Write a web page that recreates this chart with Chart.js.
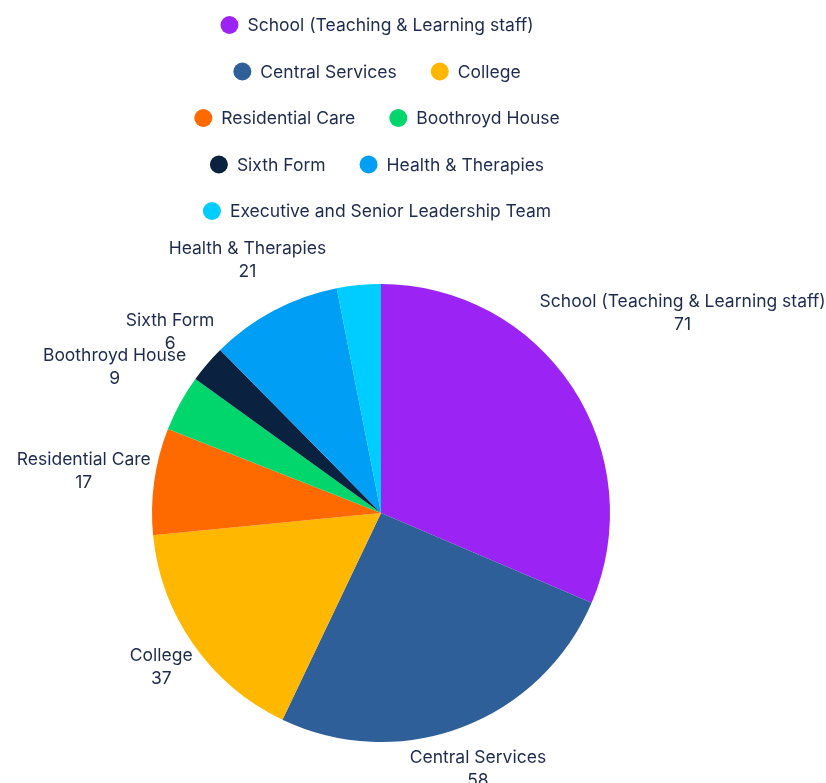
<!DOCTYPE html>
<html>
<head>
<meta charset="utf-8">
<script src="https://cdn.jsdelivr.net/npm/chart.js@4/dist/chart.umd.min.js"></script>
<style>
  html, body { margin: 0; padding: 0; background: #ffffff; }
  #wrap { width: 826px; height: 783px; position: relative; }
</style>
</head>
<body>
<div id="wrap"><canvas id="c"></canvas></div>
<script>
const categories = [
  "School (Teaching & Learning staff)",
  "Central Services",
  "College",
  "Residential Care",
  "Boothroyd House",
  "Sixth Form",
  "Health & Therapies",
  "Executive and Senior Leadership Team"
];
const staffCounts = [71, 58, 37, 17, 9, 6, 21, 7];
const sliceColors = ["#9b24f5", "#2e5f99", "#ffb700", "#ff6a00", "#00d66b", "#0a2140", "#009ef5", "#00cdff"];

const TEXT_COLOR = "#1d2b4e";
const FONT_FAMILY = "Inter, 'Noto Sans', sans-serif";
const FONT_SIZE = 17.5;

const legendPlugin = {
  id: "customLegend",
  afterDraw(chart) {
    const ctx = chart.ctx;
    const area = chart.chartArea;
    const cx = (area.left + area.right) / 2 - 4;
    const maxW = 420, dot = 18, dotGap = 9, itemGap = 34, rowH = 46.5, firstY = 25;
    ctx.save();
    ctx.font = FONT_SIZE + "px " + FONT_FAMILY;
    const items = categories.map((t, i) => ({ t, i, w: dot + dotGap + ctx.measureText(t).width }));
    const rows = [];
    let cur = [], curW = 0;
    items.forEach(it => {
      const add = cur.length ? itemGap + it.w : it.w;
      if (cur.length && curW + add > maxW) { rows.push({ items: cur, w: curW }); cur = [it]; curW = it.w; }
      else { cur.push(it); curW += add; }
    });
    if (cur.length) rows.push({ items: cur, w: curW });
    ctx.textBaseline = "middle";
    ctx.textAlign = "left";
    rows.forEach((row, r) => {
      const y = firstY + r * rowH;
      let x = cx - row.w / 2;
      row.items.forEach(it => {
        ctx.beginPath();
        ctx.fillStyle = sliceColors[it.i];
        ctx.arc(x + dot / 2, y, dot / 2, 0, Math.PI * 2);
        ctx.fill();
        ctx.fillStyle = TEXT_COLOR;
        ctx.fillText(it.t, x + dot + dotGap, y + 1);
        x += it.w + itemGap;
      });
    });
    ctx.restore();
  }
};

const outsideLabels = {
  id: "outsideLabels",
  afterDatasetsDraw(chart) {
    const ctx = chart.ctx;
    const meta = chart.getDatasetMeta(0);
    const lineH = 23, pad = 2;
    const placed = [];
    ctx.save();
    ctx.font = FONT_SIZE + "px " + FONT_FAMILY;
    ctx.fillStyle = TEXT_COLOR;
    ctx.textAlign = "center";
    ctx.textBaseline = "middle";
    meta.data.forEach((arc, i) => {
      const p = arc.getProps(["x", "y", "startAngle", "endAngle", "outerRadius"], true);
      const mid = (p.startAngle + p.endAngle) / 2;
      const c = Math.cos(mid), s = Math.sin(mid);
      const l1 = categories[i], l2 = String(staffCounts[i]);
      const w = Math.max(ctx.measureText(l1).width, ctx.measureText(l2).width);
      const h = lineH + FONT_SIZE;
      const support = (w / 2) * Math.abs(c) + (h / 2) * Math.abs(s);
      const d = p.outerRadius + pad + support;
      const lx = p.x + c * d, ly = p.y + s * d;
      const box = { x1: lx - w / 2, x2: lx + w / 2, y1: ly - h / 2, y2: ly + h / 2 };
      const clash = placed.some(b => {
        const ox = Math.max(0, Math.min(b.x2, box.x2) - Math.max(b.x1, box.x1));
        const oy = Math.max(0, Math.min(b.y2, box.y2) - Math.max(b.y1, box.y1));
        const smaller = Math.min((b.x2 - b.x1) * (b.y2 - b.y1), w * h);
        return ox * oy > 0.25 * smaller;
      });
      if (clash) return;
      placed.push(box);
      ctx.fillText(l1, lx, ly - lineH / 2);
      ctx.fillText(l2, lx, ly + lineH / 2);
    });
    ctx.restore();
  }
};

new Chart(document.getElementById("c"), {
  type: "pie",
  data: {
    labels: categories,
    datasets: [{
      data: staffCounts,
      backgroundColor: sliceColors,
      borderWidth: 0
    }]
  },
  options: {
    responsive: true,
    maintainAspectRatio: false,
    animation: false,
    layout: { padding: { top: 284, bottom: 41, left: 152, right: 216 } },
    plugins: {
      legend: { display: false },
      tooltip: { enabled: false }
    }
  },
  plugins: [outsideLabels, legendPlugin]
});
</script>
</body>
</html>
